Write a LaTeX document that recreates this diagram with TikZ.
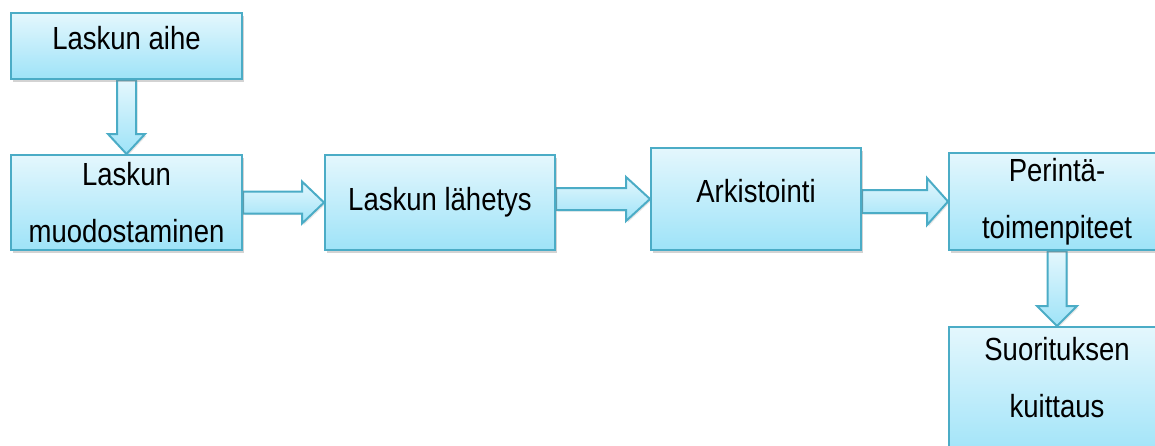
\documentclass[tikz,border=0pt]{standalone}
\usepackage{fontspec}
\setmainfont{Liberation Sans}[FakeStretch=0.86]
\usepackage{tikz}
\usetikzlibrary{calc, shadows, backgrounds}
\definecolor{myblue}{RGB}{75,172,198}
\definecolor{mytop}{RGB}{228,247,253}
\definecolor{mybottom}{RGB}{158,227,248}
\tikzset{
  box/.style={rectangle, draw=myblue, line width=1pt, top color=mytop, bottom color=mybottom, align=center, inner sep=0pt, font=\fontsize{16}{28.5}\selectfont, drop shadow={shadow xshift=1pt, shadow yshift=-1.3pt, opacity=0.35}},
  oneline/.style={text height=11.7pt, text depth=8.2pt},
  barrow/.style={draw=myblue, line width=1pt, top color=mytop, bottom color=mybottom, drop shadow={shadow xshift=0.8pt, shadow yshift=-0.8pt, opacity=0.2}}
}

\begin{document}
\begin{tikzpicture}[x=0.5pt, y=-0.5pt]
  \useasboundingbox (0,0) rectangle (1155,445);
  \clip (0,0) rectangle (1155,445);

  % Boxes
  \node[box, oneline, minimum width=115.5pt, minimum height=33pt] (aihe) at (126.5,46) {Laskun aihe};
  \node[box, minimum width=115.5pt, minimum height=47.5pt] (muod) at (126.5,202.5) {Laskun\\muodostaminen};
  \node[box, minimum width=115pt, minimum height=47.5pt] (lah) at (440,202.5) {Laskun lähetys};
  \node[box, oneline, minimum width=105pt, minimum height=51pt] (ark) at (756,199) {Arkistointi};
  \node[box, minimum width=108pt, minimum height=48.5pt] (per) at (1057,201.5) {Perintä-\\toimenpiteet};
  \node[box, text depth=15.7pt, minimum width=108pt, minimum height=66.5pt] (suor) at (1057,393.5) {Suorituksen\\kuittaus};

  % Block arrows
  \begin{scope}[on background layer]
    \draw[barrow] ($(aihe.south)+(-9.5,0)$) -- ($(muod.north)+(-9.5,-20)$) -- ($(muod.north)+(-18.5,-20)$) -- (muod.north)
      -- ($(muod.north)+(18.5,-20)$) -- ($(muod.north)+(9.5,-20)$) -- ($(aihe.south)+(9.5,0)$) -- cycle;
    \draw[barrow] ($(muod.east)+(0,-11)$) -- ($(lah.west)+(-22,-11)$) -- ($(lah.west)+(-22,-21)$) -- (lah.west)
      -- ($(lah.west)+(-22,21)$) -- ($(lah.west)+(-22,11)$) -- ($(muod.east)+(0,11)$) -- cycle;
    \draw[barrow] ($(lah.east|-ark.west)+(0,-11)$) -- ($(ark.west)+(-24,-11)$) -- ($(ark.west)+(-24,-22)$) -- (ark.west)
      -- ($(ark.west)+(-24,22)$) -- ($(ark.west)+(-24,11)$) -- ($(lah.east|-ark.west)+(0,11)$) -- cycle;
    \draw[barrow] ($(ark.east|-per.west)+(0,-11.5)$) -- ($(per.west)+(-21,-11.5)$) -- ($(per.west)+(-21,-23.5)$) -- (per.west)
      -- ($(per.west)+(-21,23.5)$) -- ($(per.west)+(-21,11.5)$) -- ($(ark.east|-per.west)+(0,11.5)$) -- cycle;
    \draw[barrow] ($(per.south)+(-9.5,0)$) -- ($(suor.north)+(-9.5,-20)$) -- ($(suor.north)+(-20,-20)$) -- (suor.north)
      -- ($(suor.north)+(20,-20)$) -- ($(suor.north)+(9.5,-20)$) -- ($(per.south)+(9.5,0)$) -- cycle;
  \end{scope}
\end{tikzpicture}
\end{document}
